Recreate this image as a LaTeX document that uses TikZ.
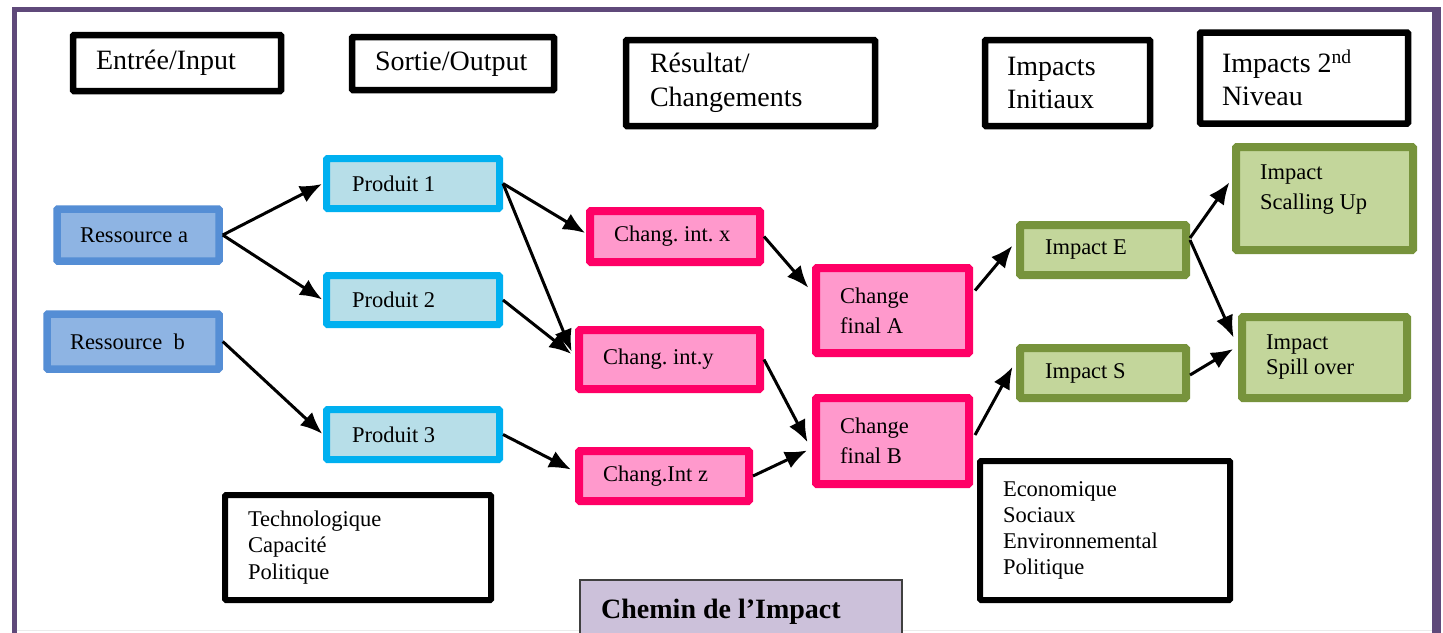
\documentclass[tikz,border=0pt]{standalone}
\usepackage{fontspec}
\setmainfont{Liberation Serif}
\usetikzlibrary{arrows.meta,calc}
\definecolor{resB}{HTML}{558ED5}
\definecolor{resF}{HTML}{8EB4E3}
\definecolor{proB}{HTML}{00B0F0}
\definecolor{proF}{HTML}{B7DEE8}
\definecolor{chgB}{HTML}{FF0066}
\definecolor{chgF}{HTML}{FF99CC}
\definecolor{impB}{HTML}{77933C}
\definecolor{impF}{HTML}{C3D69B}
\definecolor{frameC}{HTML}{5F497A}
\definecolor{lavF}{HTML}{CCC1DA}
\frenchspacing
\begin{document}
\begin{tikzpicture}[x=1pt,y=-1pt,
  base/.style={rectangle, inner ysep=0pt, align=flush left, rounded corners=1pt,
    font=\fontsize{22.5}{30}\selectfont},
  bx/.style n args={4}{minimum width=#1pt, minimum height=#2pt, inner xsep=#3pt, text width=#4pt},
  hdr/.style={base, draw=black, line width=6.5pt, fill=white, font=\fontsize{28}{33.5}\selectfont},
  lst/.style={base, draw=black, line width=6pt, fill=white, font=\fontsize{22.5}{26.5}\selectfont},
  res/.style={base, draw=resB, fill=resF, line width=7.5pt},
  pro/.style={base, draw=proB, fill=proF, line width=7pt},
  chg/.style={base, draw=chgB, fill=chgF, line width=8pt},
  imp/.style={base, draw=impB, fill=impF, line width=8pt},
  txt/.style={inner sep=0pt, align=flush left, font=\fontsize{22.5}{30}\selectfont},
  arr/.style={line width=3pt, -{Latex[length=22pt,width=18pt]}, shorten >=1pt},
]
\useasboundingbox (0,0) rectangle (1443,632);
\fill[white] (0,0) rectangle (1443,632);
\clip (0,0) rectangle (1443,632);

% frame
\fill[frameC] (12,7) rectangle (16.5,640);
\fill[frameC] (12,7) rectangle (1441,12);
\fill[frameC] (1432,7) rectangle (1441,640);
\draw[black!8, line width=1pt] (16.5,630.5) -- (1432,630.5);

% headers
\node[hdr, bx={208}{56}{23}{162}] (h1) at (177,63) {\rule[-7pt]{0pt}{27pt}Entrée/Input};
\node[hdr, bx={202}{53}{23}{156}] (h2) at (453,63.5) {\rule[-7pt]{0pt}{27pt}Sortie/Output};
\node[hdr, bx={249}{86}{24}{201}] (h3) at (750.5,83) {Résultat/\\Changements};
\node[hdr, bx={165}{86}{22}{121}] (h4) at (1067.5,83) {Impacts\\Initiaux};
\node[hdr, bx={208}{91}{22}{164}] (h5) at (1304,78) {Impacts 2\textsuperscript{nd}\\Niveau};

% resources
\node[res, bx={162}{52}{23}{116}] (ra) at (138,235) {Ressource a};
\node[res, bx={172}{55}{23}{126}] (rb) at (133,341.5) {Ressource~ b};

% products
\node[pro, bx={173}{50}{25.5}{122}] (p1) at (413,183.5) {Produit 1};
\node[pro, bx={173}{49}{25.5}{122}] (p2) at (413,300) {Produit 2};
\node[pro, bx={173}{50}{25.5}{122}] (p3) at (413,434.5) {Produit 3};

% changes
\node[chg, bx={170}{51}{24}{122}] (cx) at (675,236.5) {Chang. int. x};
\node[chg, bx={181}{59}{24}{133}] (cy) at (669.5,359.5) {Chang. int.y};
\node[chg, bx={170}{50}{24}{122}] (cz) at (664,476) {Chang.Int z};
\node[chg, bx={153}{85}{24}{105}] (fa) at (892.5,310.5) {Change\\final A};
\node[chg, bx={153}{86}{24}{105}] (fb) at (892.5,441) {Change\\final B};

% impacts
\node[imp, bx={166}{50}{25}{116}] (ie) at (1103,250) {Impact E};
\node[imp, bx={166}{50}{25}{116}] (is) at (1103,373) {Impact S};
\node[imp, minimum width=177pt, minimum height=103pt] (su) at (1324.5,198.5) {};
\node[txt, anchor=north west] (sut) at (1260,165) {Impact\\Scalling Up};
\node[imp, bx={165}{81}{24}{117}, font=\fontsize{22.5}{25}\selectfont] (so) at (1324.5,357.5) {Impact\\Spill over};

% lists
\node[lst, bx={266}{105}{23}{220}] (tech) at (358,547.5) {Technologique\\Capacité\\Politique};
\node[lst, bx={250}{139}{23}{204}, font=\fontsize{22.5}{26}\selectfont] (econ) at (1105,530.5) {Economique\\Sociaux\\Environnemental\\Politique};

% title
\node[draw=black!75, line width=2pt, fill=lavF, minimum width=322pt, minimum height=101pt, anchor=north west, inner sep=0pt] (chb) at (579,579) {};
\node[anchor=base west, inner sep=0pt, font=\fontsize{28}{33}\selectfont\bfseries] (cht) at (601,618) {Chemin de l’Impact};

% arrows
\draw[arr] (ra.east) -- (p1.west);
\draw[arr] (ra.east) -- (p2.west);
\draw[arr] (rb.east) -- (p3.west);
\draw[arr] (p1.east) -- ($(cx.west)+(0,-3)$);
\draw[arr] (p1.east) -- ($(cy.west)+(-3,-7)$);
\draw[arr] (p2.east) -- ($(cy.west)+(-3,-5)$);
\draw[arr] (p3.east) -- ($(cz.west)+(-3,-6)$);
\draw[arr] (cx.east) -- ($(fa.west)+(-3,-22)$);
\draw[arr] (cy.east) -- ($(fb.west)+(-4,2)$);
\draw[arr] (cz.east) -- ($(fb.west)+(-4,9)$);
\draw[arr] ($(fa.east)+(2,-20)$) -- ($(ie.west)+(-3,-5)$);
\draw[arr] ($(fb.east)+(2,-6)$) -- ($(is.west)+(-3,-7)$);
\draw[arr] ($(ie.east)+(0,-12)$) -- ($(su.west)+(-2,-17)$);
\draw[arr] ($(ie.east)+(0,-10)$) -- ($(so.west)+(-4,-19)$);
\draw[arr] ($(is.east)+(0,2)$) -- ($(so.west)+(-4,-9)$);
\end{tikzpicture}
\end{document}
